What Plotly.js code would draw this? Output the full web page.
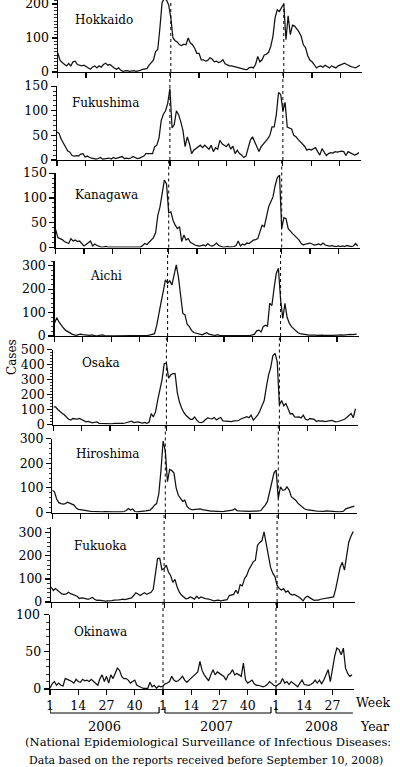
<!DOCTYPE html>
<html><head><meta charset="utf-8">
<script src="https://cdn.plot.ly/plotly-3.0.1.min.js"></script>
<style>html,body{margin:0;padding:0;background:#fff}#chart{width:400px;height:767px}</style>
</head><body><div id="chart"></div>
<script>
// ---------------- DATA ----------------
const prefectures = ['Hokkaido','Fukushima','Kanagawa','Aichi','Osaka','Hiroshima','Fukuoka','Okinawa'];

const hokkaido = [
 56,35,28,24,18,25,18,30,32,22, 20,18,20,16,14,8,15,18,12,18,
 14,22,26,20,22,16,12,8,12,5, 2,3,4,2,3,4,2,3,5,8,
 8,10,20,28,35,60,66,130,205,215, 212,198,160,100,92,88,80,78,82,80,
 100,85,80,70,55,55,36,36,32,34, 42,38,30,32,28,30,36,24,20,18,
 18,16,15,14,12,10,8,7,12,14, 12,22,46,30,36,50,52,58,75,105,
 160,183,178,190,200,95,165,110,138,135, 128,118,105,80,72,48,35,30,22,12,
 16,18,14,20,16,12,18,14,12,18, 20,22,26,22,18,16,14,12,16,20];

const fukushima = [
 57,54,42,33,24,18,16,9,8,9, 8,12,13,6,8,5,4,3,2,3,
 5,2,3,3,4,2,5,3,4,5, 7,3,4,3,4,7,5,3,4,6,
 8,13,13,14,13,27,30,45,80,93, 100,115,145,65,72,100,92,78,60,27,
 47,33,13,20,23,27,30,25,30,26, 22,30,17,25,22,40,33,30,27,33,
 22,28,13,20,13,10,5,8,27,40, 47,37,27,17,27,32,37,43,50,67,
 67,93,137,133,100,117,67,65,63,50, 47,42,37,32,28,20,22,20,23,25,
 17,10,23,15,9,13,15,14,17,16, 17,18,17,9,17,15,13,10,12,15];

const kanagawa = [
 36,20,18,16,12,10,8,18,13,15, 12,13,8,3,6,10,13,3,7,4,
 2,1,1,2,1,1,2,1,1,2, 1,1,2,1,1,2,1,1,2,1,
 4,8,6,10,15,20,30,65,82,108, 136,128,70,72,55,45,38,42,12,25,
 15,18,10,8,5,4,3,4,5,3, 8,4,3,5,9,4,2,1,1,2,
 1,1,2,4,13,3,7,5,9,8, 11,15,16,18,32,45,42,62,82,92,
 102,125,141,146,38,60,58,38,32,28, 24,20,15,8,5,7,8,9,7,5,
 6,7,5,9,5,4,3,4,3,2, 3,2,3,2,4,3,2,3,8,3];

const aichi = [
 55,78,60,45,35,25,18,12,8,5, 3,6,8,6,4,2,3,5,2,1,
 2,3,5,2,1,1,2,1,1,1, 1,2,1,1,1,1,1,2,1,1,
 1,2,2,3,5,8,10,45,100,145, 190,240,225,235,218,255,303,250,160,96,
 90,50,40,24,15,12,10,8,5,10, 14,8,5,4,3,6,2,2,4,2,
 1,2,1,1,2,1,2,1,2,3, 3,5,8,22,25,17,40,46,42,140,
 130,203,267,289,155,75,139,80,55,40, 31,20,14,10,8,6,5,4,4,5,
 4,3,5,4,3,4,4,3,3,4, 2,3,5,4,6,5,7,6,8,8];

const osaka = [
 118,118,100,85,75,65,50,35,30,40, 38,36,40,32,25,18,20,15,11,15,
 18,8,7,6,5,8,6,5,7,6, 8,6,7,10,13,20,22,13,15,18,
 12,10,14,8,15,73,51,84,162,229, 300,405,410,310,330,340,340,215,150,110,
 80,62,45,35,35,50,29,15,12,18, 33,44,40,38,47,30,40,47,24,22,
 20,22,20,24,22,25,35,40,48,52, 45,62,29,45,62,90,125,160,250,330,
 380,460,475,420,130,160,125,140,105,70, 73,51,50,51,44,62,35,29,40,38,
 35,20,25,22,24,20,22,25,27,22, 18,20,25,30,35,47,60,73,45,105];

const hiroshima = [
 90,84,55,40,36,34,36,42,38,35, 30,18,13,12,10,9,8,6,5,4,
 5,4,3,3,4,3,3,2,3,3, 2,2,3,4,8,16,10,14,4,3,
 5,7,6,7,8,10,18,30,36,75, 170,290,250,125,175,170,160,100,70,55,
 45,50,25,16,12,12,14,16,15,12, 10,8,7,6,6,5,6,5,4,5,
 6,5,8,10,15,8,7,6,5,5, 4,5,6,5,6,7,8,20,30,45,
 84,130,160,172,57,104,91,92,104,91, 64,57,50,38,30,22,15,12,10,9,
 8,7,6,5,6,5,7,6,5,6, 5,4,3,4,5,15,17,19,22,26];

const fukuoka = [
 65,50,58,48,42,35,33,35,42,36, 33,30,25,15,18,17,14,12,15,20,
 12,7,8,6,5,4,5,4,6,8, 10,9,10,12,10,12,15,18,28,40,
 35,28,35,40,33,36,42,55,120,188, 190,140,145,160,130,115,85,98,65,43,
 30,20,14,16,22,18,12,25,15,22, 18,15,14,10,6,5,7,8,5,7,
 6,10,28,30,33,51,36,75,70,101, 115,140,160,174,181,246,258,265,304,250,
 205,150,125,110,72,58,52,58,43,48, 35,30,33,28,22,14,5,20,25,19,
 12,7,8,8,12,14,15,16,18,19, 22,58,105,150,172,138,200,260,285,305];

const okinawa = [
 1,7,10,5,8,5,4,14,13,12, 10,8,13,10,9,13,11,12,10,13,
 10,8,5,14,19,10,17,8,19,14, 20,28,25,17,14,14,12,8,10,12,
 5,3,2,1,1,1,9,3,5,1, 4,3,4,7,8,10,17,12,10,11,
 14,17,12,9,12,15,17,20,23,37, 25,19,14,11,19,26,19,23,21,19,
 17,12,19,21,26,19,21,19,17,35, 12,8,10,12,7,5,5,4,3,4,
 6,10,7,5,4,6,8,14,8,10, 6,10,8,6,3,8,12,6,5,5,
 6,8,12,8,12,7,12,19,26,10, 30,44,55,53,46,55,28,21,17,19];

const series = [hokkaido,fukushima,kanagawa,aichi,osaka,hiroshima,fukuoka,okinawa];

// consecutive week index: 2006 wk1 = 1, 2007 wk1 = 53, 2008 wk1 = 105
const weekIndex = hokkaido.map((_, i) => i + 1);
const weekTickVals = [1,14,27,40,53,66,79,92,105,118,131];
const weekTickText = ['1','14','27','40','1','14','27','40','1','14','27'];
const yearLabels = ['2006','2007','2008'];
const yearStartIndex = [1,53,105];
const footnote1 = '(National Epidemiological Surveillance of Infectious Diseases:';
const footnote2 = 'Data based on the reports received before September 10, 2008)';

// ---------------- LAYOUT ----------------
const W = 400, H = 767;
const FONT = 'DejaVu Serif';
const panelPx = [[0,72],[86,160],[173,247.5],[261,336],[349.5,424.5],[438.5,512.5],[527,602],[614.5,689]];
const panelLeft = [57.8,56.9,55.7,54.6,53.4,52.3,51.1,50];
const pxPerWeek = 2.173;
const xRange = [1,141];
const yRanges = [[0,211.8],[0,150.2],[0,150.2],[0,320],[0,500.5],[0,300.3],[0,325],[0,100.2]];
const yDtick = [100,50,50,100,100,100,100,50];
const yMinor = [10,10,10,20,20,20,20,10];
const labelPos = [[73,20],[70,103],[73,195],[88,276],[80,363],[74,454],[72,546],[72,632]];

const py = p => 1 - p / H;
const pxX = p => p / W;

const data = [];
const layout = {
  width: W, height: H,
  margin: {l:0, r:0, t:0, b:0},
  paper_bgcolor: '#fff', plot_bgcolor: 'rgba(0,0,0,0)',
  showlegend: false,
  font: {family: FONT, color: '#000'},
  annotations: [], shapes: []
};

series.forEach((vals, k) => {
  const n = k + 1;
  const xs = n === 1 ? '' : String(n);
  data.push({
    x: weekIndex, y: vals, type: 'scatter', mode: 'lines',
    xaxis: 'x' + xs, yaxis: 'y' + xs,
    line: {color: '#111', width: 1.25}, hoverinfo: 'skip'
  });
  const left = panelLeft[k];
  const right = left + (xRange[1] - xRange[0]) * pxPerWeek;
  layout['xaxis' + xs] = {
    domain: [pxX(left), pxX(right)], range: xRange, anchor: 'y' + xs,
    showline: true, linecolor: '#000', linewidth: 1.3,
    ticks: 'outside', ticklen: 5, tickwidth: 1.2, tickcolor: '#000',
    tickmode: 'array', tickvals: weekTickVals, ticktext: weekTickText,
    showticklabels: n === 8, tickfont: {family: FONT, size: 12.5, color: '#000'},
    ticklabeloverflow: 'allow',
    showgrid: false, zeroline: false, fixedrange: true
  };
  const yax = {
    domain: [py(panelPx[k][1]), py(panelPx[k][0])], range: yRanges[k], anchor: 'x' + xs,
    showline: true, linecolor: '#000', linewidth: 1.3,
    ticks: 'outside', ticklen: 5, tickwidth: 1.2, tickcolor: '#000',
    tickmode: 'linear', tick0: 0, dtick: yDtick[k],
    minor: {dtick: yMinor[k], tick0: 0, ticks: 'outside', ticklen: 2.5, tickwidth: 0.8, tickcolor: '#000', showgrid: false},
    tickfont: {family: FONT, size: 12.5, color: '#000'},
    ticklabeloverflow: 'allow',
    showgrid: false, zeroline: false, fixedrange: true
  };
  if (n === 8) {
    // top label of the last panel is written as an annotation at y = 100 (see below)
    yax.tickmode = 'array';
    yax.tickvals = [0, 50, 100];
    yax.ticktext = ['0', '50', ''];
    layout.annotations.push({xref: 'paper', yref: 'y8', x: pxX(left - 8), y: 100,
      xanchor: 'right', yanchor: 'middle', showarrow: false, text: '100',
      font: {family: FONT, size: 12.5, color: '#000'}});
  }
  layout['yaxis' + xs] = yax;
  layout.annotations.push({
    xref: 'paper', yref: 'paper', x: pxX(labelPos[k][0]), y: py(labelPos[k][1]),
    xanchor: 'left', yanchor: 'middle', showarrow: false,
    text: prefectures[k], font: {family: FONT, size: 12, color: '#000'}
  });
  // dotted year-boundary lines (2007 wk1, 2008 wk1), drawn through each panel
  const yTop = k === 0 ? 1 : py(panelPx[k-1][1]);
  [yearStartIndex[1], yearStartIndex[2]].forEach(xv => {
    layout.shapes.push({type: 'line', xref: 'x' + xs, yref: 'paper',
      x0: xv, x1: xv, y0: py(panelPx[k][1]), y1: yTop,
      line: {color: '#000', width: 1, dash: 'dot'}});
  });
});

// year brackets beneath the bottom axis
const brY = py(713), brTop = py(707);
const brStart = [1, 53.9, 105];
const brEnd = [51.2, 102.7, 140.4];
const yearCenter = [26.3, 77.4, 126];
yearLabels.forEach((yr, i) => {
  layout.shapes.push({type:'line', xref:'x8', yref:'paper', x0: brStart[i], x1: brEnd[i], y0: brY, y1: brY, line:{color:'#000', width:1.2}});
  layout.shapes.push({type:'line', xref:'x8', yref:'paper', x0: brStart[i], x1: brStart[i], y0: brY, y1: brTop, line:{color:'#000', width:1.2}});
  if (i < 2) layout.shapes.push({type:'line', xref:'x8', yref:'paper', x0: brEnd[i], x1: brEnd[i], y0: brY, y1: brTop, line:{color:'#000', width:1.2}});
  layout.annotations.push({xref:'x8', yref:'paper', x: yearCenter[i], y: py(726), xanchor:'center', yanchor:'middle',
    showarrow:false, text: yr, font:{family: FONT, size: 13, color:'#000'}});
});

layout.annotations.push({xref:'paper', yref:'paper', x: pxX(354), y: py(702), xanchor:'left', yanchor:'middle',
  showarrow:false, text:'Week', font:{family: FONT, size: 12.5, color:'#000'}});
layout.annotations.push({xref:'paper', yref:'paper', x: pxX(358), y: py(726), xanchor:'left', yanchor:'middle',
  showarrow:false, text:'Year', font:{family: FONT, size: 12.5, color:'#000'}});
layout.annotations.push({xref:'paper', yref:'paper', x: pxX(12), y: py(357), xanchor:'center', yanchor:'middle',
  showarrow:false, text:'Cases', textangle: -90, font:{family: FONT, size: 12, color:'#000'}});
layout.annotations.push({xref:'paper', yref:'paper', x: pxX(23), y: py(742), xanchor:'left', yanchor:'middle',
  showarrow:false, text: footnote1, font:{family: FONT, size: 11.6, color:'#000'}});
layout.annotations.push({xref:'paper', yref:'paper', x: pxX(27), y: py(760), xanchor:'left', yanchor:'middle',
  showarrow:false, text: footnote2, font:{family: FONT, size: 10.9, color:'#000'}});

Plotly.newPlot('chart', data, layout, {staticPlot: true, displayModeBar: false});
</script>
</body></html>
